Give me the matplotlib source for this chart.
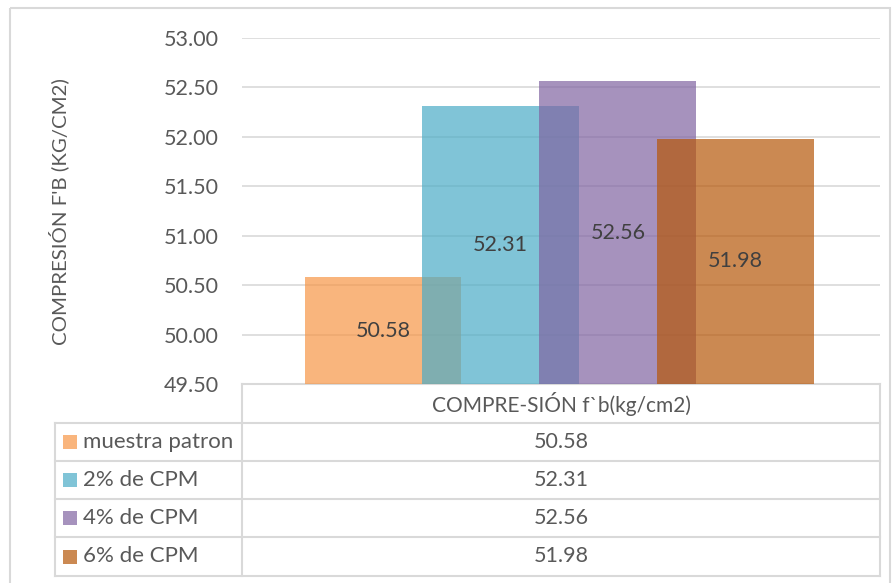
import matplotlib
matplotlib.use("Agg")
import matplotlib.pyplot as plt
from matplotlib.patches import Rectangle

plt.rcParams['font.family'] = ['Lato', 'DejaVu Sans']

# --- data ---
series = ["muestra patron", "2% de CPM", "4% de CPM", "6% de CPM"]
values = [50.58, 52.31, 52.56, 51.98]
category = "COMPRE-SIÓN f`b(kg/cm2)"
yticks = [49.50, 50.00, 50.50, 51.00, 51.50, 52.00, 52.50, 53.00]
ylabel = "COMPRESIÓN F'B (KG/CM2)"
colors = ['#F79646', '#4BACC6', '#8064A2', '#B65708']

W, H = 892, 583
text_col = '#595959'
line_col = '#D9D9D9'
fs = 15.5

fig = plt.figure(figsize=(W / 100, H / 100), dpi=100)

# overlay in pixel coords for frame and table
ov = fig.add_axes([0, 0, 1, 1])
ov.set_xlim(0, W)
ov.set_ylim(H, 0)
ov.axis('off')

# plot area in pixels
px0, px1, py0, py1 = 242, 880, 38, 384
ax = fig.add_axes([px0 / W, (H - py1) / H, (px1 - px0) / W, (py1 - py0) / H])

step, width, mid = 0.184, 0.246, 0.497
for i, (name, v) in enumerate(zip(series, values)):
    xc = mid + (i - 1.5) * step
    ax.bar(xc, v - yticks[0], bottom=yticks[0], width=width,
           color=colors[i], alpha=0.7, linewidth=0, zorder=2)
    ax.text(xc, (yticks[0] + v) / 2, f"{v:.2f}", ha='center', va='center',
            fontsize=fs, color='#404040', zorder=3)

ax.set_xlim(0, 1)
ax.set_ylim(yticks[0], yticks[-1])
ax.set_yticks(yticks)
ax.set_yticklabels([f"{t:.2f}" for t in yticks])
ax.tick_params(axis='y', length=0, pad=17, labelsize=fs, labelcolor=text_col)
ax.set_xticks([])
ax.grid(axis='y', color=line_col, linewidth=1.2, zorder=0)
for s in ax.spines.values():
    s.set_visible(False)
ax.patch.set_alpha(0)
fig.text(58.5 / W, 1 - 212 / H, ylabel, rotation=90, ha='center', va='center',
         fontsize=14.7, color=text_col)

# outer chart frame
ov.add_patch(Rectangle((10, 8), W - 12, H, fill=False, edgecolor=line_col, linewidth=1.5))

# data table
rows = [384, 423, 461, 499, 537, 576]
lw = 1.5
ov.plot([px0, px1], [rows[0], rows[0]], color=line_col, lw=lw)
for y in rows[1:]:
    ov.plot([55, px1], [y, y], color=line_col, lw=lw)
ov.plot([px0, px0], [rows[0], rows[-1]], color=line_col, lw=lw)
ov.plot([px1, px1], [rows[0], rows[-1]], color=line_col, lw=lw)
ov.plot([55, 55], [rows[1], rows[-1]], color=line_col, lw=lw)

ov.text((px0 + px1) / 2, (rows[0] + rows[1]) / 2, category, ha='center', va='center',
        fontsize=15, color=text_col)
for i, (name, v) in enumerate(zip(series, values)):
    yc = (rows[i + 1] + rows[i + 2]) / 2
    ov.add_patch(Rectangle((63, yc - 7), 14, 14, color=colors[i], alpha=0.7, linewidth=0))
    ov.text(83, yc, name, ha='left', va='center', fontsize=16, color=text_col)
    ov.text((px0 + px1) / 2, yc, f"{v:.2f}", ha='center', va='center',
            fontsize=fs, color=text_col)

fig.savefig("out.png", dpi=100)
